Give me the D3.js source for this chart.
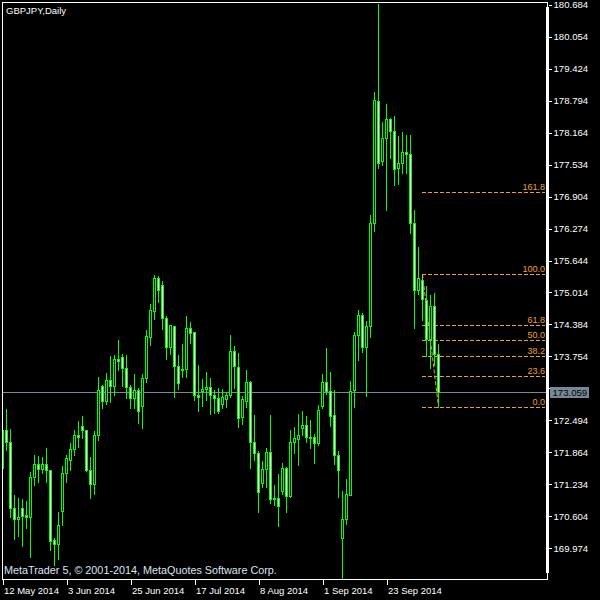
<!DOCTYPE html>
<html>
<head>
<meta charset="utf-8">
<script src="https://cdn.jsdelivr.net/npm/d3@7"></script>
<style>
html,body{margin:0;padding:0;background:#000;}
svg{display:block;}
text{font-family:"Liberation Sans",Arial,sans-serif;}
</style>
</head>
<body>
<script>
// ---------- data (GBPJPY daily) ----------
const open = [171.56,172.30,172.06,170.76,170.54,170.76,170.62,170.58,171.37,171.64,
171.54,171.64,171.51,170.13,170.05,170.70,171.45,171.71,171.92,172.20,
172.38,172.30,171.51,171.24,172.20,173.17,172.88,173.29,173.17,173.70,
173.75,173.52,173.15,172.93,173.10,172.77,173.32,174.14,174.65,175.29,
175.17,174.52,173.94,174.36,173.57,173.50,173.50,174.31,174.24,172.99,
173.07,173.11,173.15,173.00,172.94,172.81,172.92,173.00,173.86,173.55,
172.56,172.88,173.24,172.07,171.85,171.26,171.54,171.87,170.94,170.97,
171.11,171.56,171.00,172.07,172.12,172.35,172.40,172.17,172.16,172.04,
172.78,173.25,173.08,172.60,171.82,170.18,170.54,171.03,173.10,174.17,
174.57,173.94,174.35,176.38,178.79,177.61,178.06,178.43,178.19,177.46,
177.56,177.78,177.74,176.38,175.06,175.26,174.86,174.09,174.75,173.80];
const high = [172.40,172.73,172.35,171.04,170.99,170.96,170.92,171.49,171.84,171.81,
171.79,171.97,171.53,170.20,170.70,171.62,171.84,172.07,172.33,172.51,
172.60,172.33,171.79,172.31,173.37,173.21,173.44,173.78,173.80,174.09,
173.83,173.81,173.21,173.42,173.15,173.42,174.29,174.81,175.38,175.36,
175.26,174.57,174.40,174.37,173.81,174.01,174.57,174.45,174.26,173.60,
173.32,173.46,173.35,173.12,173.15,173.13,173.07,174.19,173.98,173.84,
172.99,173.50,173.29,172.62,171.91,171.72,171.97,172.62,171.24,171.45,
171.67,171.59,172.33,172.38,172.63,172.70,172.60,172.53,172.25,172.81,
173.43,173.94,173.47,173.12,171.91,171.12,171.35,173.29,174.25,174.68,
174.62,174.48,176.57,178.98,180.72,178.40,178.74,178.48,178.52,178.12,
178.20,178.14,178.14,176.65,175.93,175.28,175.16,174.98,175.02,174.01];
const low = [171.47,171.91,170.59,170.15,170.22,170.02,170.38,169.80,171.22,171.27,
171.45,171.27,169.94,169.64,169.77,170.44,171.27,171.51,171.81,171.97,
172.14,171.50,170.96,171.05,172.10,172.73,172.81,172.86,172.99,173.48,
173.17,172.93,172.73,172.73,172.44,172.35,173.25,173.98,174.50,174.83,
174.30,173.71,173.80,172.96,173.12,173.35,173.35,174.01,172.89,172.67,
172.78,172.89,172.61,172.63,172.63,172.73,172.76,172.96,173.13,172.37,
172.43,172.76,171.56,171.71,170.69,171.18,171.18,170.86,170.82,170.41,
171.05,170.69,170.99,171.86,171.62,172.20,172.07,171.94,171.65,172.01,
172.73,173.02,172.39,171.64,170.99,169.30,170.45,171.02,172.76,173.69,
173.84,172.97,174.14,176.22,177.46,177.52,176.64,177.66,177.13,177.16,
177.37,177.37,176.18,174.32,174.99,174.47,173.77,173.52,173.58,172.76];
const close = [172.30,172.07,170.76,170.54,170.59,170.61,170.58,171.38,171.64,171.54,
171.63,171.51,170.12,170.05,170.44,171.45,171.75,171.92,172.20,172.16,
172.31,171.51,171.24,172.20,173.10,172.88,173.29,173.17,173.70,173.67,
173.52,173.15,172.93,173.10,172.68,173.32,174.15,174.67,175.29,175.06,
174.52,173.94,174.37,173.57,173.23,173.48,174.31,174.22,172.99,172.96,
173.12,173.15,173.00,172.93,172.67,172.95,173.00,173.86,173.56,172.54,
172.91,173.24,172.07,171.86,171.09,171.54,171.87,170.94,170.97,170.81,
171.56,171.00,172.07,172.14,172.20,172.40,172.17,172.15,172.04,172.70,
173.25,173.08,172.58,171.82,171.52,170.54,171.05,173.07,174.17,174.57,
173.94,174.35,176.38,178.81,177.56,178.06,178.43,178.20,177.44,177.56,
177.78,177.74,176.38,175.07,175.29,174.88,174.09,174.75,173.80,173.059];

// 173.124 sits under the bid box and is hidden in the reference, so it has no label
const priceTicks = [180.684,180.054,179.424,178.794,178.164,177.534,176.904,176.274,
175.644,175.014,174.384,173.754,173.124,172.494,171.864,171.234,170.604,169.974];
const hiddenTick = 173.124;
const dateTickIdx = [0,16,32,48,64,80,96];
const dateLabels = ["12 May 2014","3 Jun 2014","25 Jun 2014","17 Jul 2014","8 Aug 2014","1 Sep 2014","23 Sep 2014"];

const fibLevels = [0.0,23.6,38.2,50.0,61.8,100.0,161.8];
const fibHighPrice = 175.376, fibLowPrice = 172.76;
const fibStartIdx = 105, fibEndIdx = 109;

const bidPrice = 173.059;
const titleText = "GBPJPY,Daily";
const copyrightText = "MetaTrader 5, \u00A9 2001-2014, MetaQuotes Software Corp.";

// ---------- drawing ----------
const W = 600, H = 600;
const plotL = 2.5, plotT = 2.5, plotR = 547.5, plotB = 579.5;
const GREEN = "#00ff00", ORANGE = "#f0a020", BIDC = "#778899";

const svg = d3.select("body").append("svg").attr("width", W).attr("height", H)
  .style("background", "#000");

const x = d3.scaleLinear().domain([0, 109]).range([2.5, 438.5]);
const y = d3.scaleLinear().domain([169.974, 180.684]).range([548.2, 4.8]);
const py = v => Math.round(y(v)) + 0.5;

svg.append("defs").append("clipPath").attr("id", "plot")
  .append("rect").attr("x", plotL).attr("y", plotT)
  .attr("width", plotR - plotL).attr("height", plotB - plotT);

const plot = svg.append("g").attr("clip-path", "url(#plot)");

// bid line
plot.append("line").attr("x1", plotL).attr("x2", plotR)
  .attr("y1", py(bidPrice)).attr("y2", py(bidPrice))
  .attr("stroke", BIDC).attr("stroke-width", 1).attr("shape-rendering", "crispEdges");

// fibonacci object
const fibPrice = l => fibLowPrice + (fibHighPrice - fibLowPrice) * l / 100;
const fib = plot.append("g");
fib.append("line")
  .attr("x1", x(fibStartIdx)).attr("y1", y(fibHighPrice))
  .attr("x2", x(fibEndIdx)).attr("y2", y(fibLowPrice))
  .attr("stroke", ORANGE).attr("stroke-dasharray", "4,2");
fib.selectAll("line.lv").data(fibLevels).join("line").attr("class", "lv")
  .attr("x1", x(fibStartIdx) - 0.5).attr("x2", 545)
  .attr("y1", d => py(fibPrice(d))).attr("y2", d => py(fibPrice(d)))
  .attr("stroke", ORANGE).attr("stroke-dasharray", "4,2")
  .attr("shape-rendering", "crispEdges");
fib.append("line")
  .attr("x1", x(fibStartIdx) - 0.5).attr("x2", x(fibStartIdx) - 0.5)
  .attr("y1", py(fibHighPrice)).attr("y2", py(fibHighPrice) + 5)
  .attr("stroke", ORANGE).attr("shape-rendering", "crispEdges");

// candles
const idx = d3.range(open.length);
const candles = plot.append("g");
candles.selectAll("line.wick").data(idx).join("line").attr("class", "wick")
  .attr("x1", i => x(i)).attr("x2", i => x(i))
  .attr("y1", i => py(high[i])).attr("y2", i => py(low[i]))
  .attr("stroke", GREEN).attr("shape-rendering", "crispEdges");
candles.selectAll("rect.body").data(idx).join("rect").attr("class", "body")
  .attr("x", i => x(i) - 1)
  .attr("width", 2)
  .attr("y", i => py(Math.max(open[i], close[i])))
  .attr("height", i => Math.max(0, py(Math.min(open[i], close[i])) - py(Math.max(open[i], close[i]))))
  .attr("fill", i => close[i] < open[i] ? "#ffffff" : "#000000")
  .attr("stroke", GREEN).attr("stroke-width", 1)
  .attr("shape-rendering", "crispEdges");

// fib labels
svg.append("g").selectAll("text").data(fibLevels).join("text")
  .attr("x", 545).attr("y", d => py(fibPrice(d)) - 3)
  .attr("text-anchor", "end").attr("fill", ORANGE)
  .attr("font-size", "9px")
  .text(d => d.toFixed(1));

// frame
svg.append("rect").attr("x", plotL).attr("y", plotT)
  .attr("width", plotR - plotL).attr("height", plotB - plotT)
  .attr("fill", "none").attr("stroke", "#fff").attr("shape-rendering", "crispEdges");
svg.append("line").attr("x1", plotR).attr("x2", plotR).attr("y1", 7).attr("y2", 573)
  .attr("stroke", "#fff").attr("stroke-width", 3).attr("shape-rendering", "crispEdges");

// price axis
const yAxis = d3.axisRight(y).tickValues(priceTicks)
  .tickFormat(d => d === hiddenTick ? "" : d3.format(".3f")(d))
  .tickSize(3).tickPadding(2);
const ya = svg.append("g").attr("transform", `translate(${plotR + 1},0)`).call(yAxis);
ya.select(".domain").remove();
ya.selectAll("line").attr("stroke", "#fff").attr("shape-rendering", "crispEdges");
ya.selectAll("text").attr("fill", "#fff").attr("font-size", "9.6px")
  .attr("font-family", "Liberation Sans, Arial, sans-serif");

// bid label box
const by = y(bidPrice);
svg.append("rect").attr("x", 550).attr("y", Math.round(by) - 5).attr("width", 39).attr("height", 11)
  .attr("fill", BIDC).attr("shape-rendering", "crispEdges");
svg.append("text").attr("x", 552.5).attr("y", Math.round(by) + 4)
  .attr("fill", "#000").attr("font-size", "9.6px").text(bidPrice.toFixed(3));

// date axis
const xAxis = d3.axisBottom(x).tickValues(dateTickIdx)
  .tickFormat((d, i) => dateLabels[i]).tickSize(5).tickPadding(3);
const xa = svg.append("g").attr("transform", `translate(0,${plotB})`).call(xAxis);
xa.select(".domain").remove();
xa.selectAll("line").attr("stroke", "#fff").attr("shape-rendering", "crispEdges");
xa.selectAll("text").attr("fill", "#fff").attr("font-size", "9.5px")
  .attr("text-anchor", "start").attr("dx", "1px")
  .attr("font-family", "Liberation Sans, Arial, sans-serif");

// title & copyright
svg.append("text").attr("x", 6).attr("y", 14).attr("fill", "#fff")
  .attr("font-size", "9.5px").text(titleText);
svg.append("text").attr("x", 4).attr("y", 573.5).attr("fill", "#dce4f4")
  .attr("font-size", "10.8px").text(copyrightText);
</script>
</body>
</html>
